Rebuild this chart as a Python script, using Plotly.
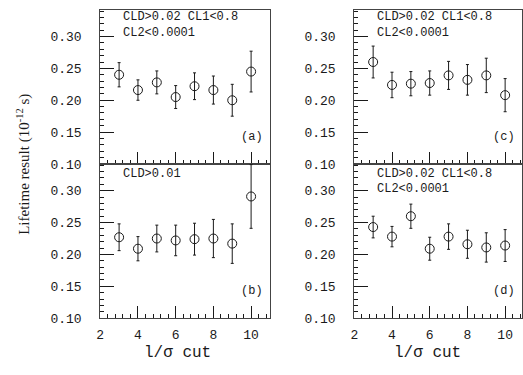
import plotly.graph_objects as go

cuts = [3, 4, 5, 6, 7, 8, 9, 10]

a_vals = [0.240, 0.216, 0.228, 0.205, 0.222, 0.216, 0.200, 0.245]
a_errs = [0.019, 0.016, 0.018, 0.018, 0.021, 0.022, 0.025, 0.032]

b_vals = [0.227, 0.209, 0.225, 0.222, 0.224, 0.225, 0.217, 0.291]
b_errs = [0.021, 0.019, 0.021, 0.024, 0.025, 0.030, 0.031, 0.050]

c_vals = [0.260, 0.224, 0.226, 0.227, 0.239, 0.232, 0.239, 0.208]
c_errs = [0.025, 0.020, 0.019, 0.019, 0.022, 0.024, 0.027, 0.026]

d_vals = [0.243, 0.228, 0.260, 0.209, 0.228, 0.216, 0.211, 0.214]
d_errs = [0.017, 0.016, 0.019, 0.018, 0.020, 0.022, 0.023, 0.025]

y_ticks = [0.10, 0.15, 0.20, 0.25, 0.30]
y_ticklabels = ["0.10", "0.15", "0.20", "0.25", "0.30"]
x_ticks = [2, 4, 6, 8, 10]
x_ticklabels = ["2", "4", "6", "8", "10"]

panel_texts = {
    "a": ["CLD>0.02 CL1<0.8", "CL2<0.0001"],
    "b": ["CLD>0.01"],
    "c": ["CLD>0.02 CL1<0.8", "CL2<0.0001"],
    "d": ["CLD>0.02 CL1<0.8", "CL2<0.0001"],
}

W, H = 523, 375
INK = "#1a1a1a"
MONO = "Liberation Mono, DejaVu Sans Mono, monospace"
SERIF = "Liberation Serif, DejaVu Serif, serif"

# panel pixel boxes: left, right, top, bottom
boxes = {
    "a": (97, 268, 10, 168),
    "b": (97, 268, 168, 326),
    "c": (353, 522, 10, 168),
    "d": (353, 522, 168, 326),
}
data = {"a": (a_vals, a_errs), "b": (b_vals, b_errs),
        "c": (c_vals, c_errs), "d": (d_vals, d_errs)}

fig = go.Figure()
layout = {}
annotations = []
ymax = 0.342
for i, key in enumerate(["a", "b", "c", "d"]):
    n = i + 1
    xs = "" if n == 1 else str(n)
    l, r, t, b = boxes[key]
    xrange_max = 2 + (r - l) / 19.0
    vals, errs = data[key]
    fig.add_trace(go.Scatter(
        x=cuts, y=vals, mode="markers",
        xaxis="x" + xs, yaxis="y" + xs,
        marker=dict(symbol="circle-open", size=9, color=INK, line=dict(width=1, color=INK)),
        error_y=dict(type="data", array=errs, visible=True, color=INK, thickness=1, width=1.5),
        showlegend=False, hoverinfo="skip",
    ))
    bottom = key in ("b", "d")
    layout["xaxis" + xs] = dict(
        domain=[l / W, min(r / W, 1.0)], anchor="y" + xs, range=[2, xrange_max],
        tickvals=x_ticks, ticktext=x_ticklabels, showticklabels=bottom,
        ticks="inside", ticklen=12, tickwidth=1, tickcolor=INK,
        minor=dict(dtick=0.4, tick0=2, ticks="inside", ticklen=4, tickwidth=1, tickcolor=INK),
        showline=True, linecolor="#444", linewidth=1, mirror=True,
        showgrid=False, zeroline=False,
        tickfont=dict(family=MONO, size=13, color=INK), ticklabelstandoff=4,
    )
    layout["yaxis" + xs] = dict(
        domain=[1 - b / H, 1 - t / H], anchor="x" + xs, range=[0.10, ymax],
        tickvals=y_ticks, ticktext=y_ticklabels,
        ticks="inside", ticklen=14, tickwidth=1, tickcolor=INK,
        minor=dict(dtick=0.01, tick0=0.10, ticks="inside", ticklen=4, tickwidth=1, tickcolor=INK),
        showline=True, linecolor="#444", linewidth=1, mirror=True,
        showgrid=False, zeroline=False,
        tickfont=dict(family=MONO, size=13, color=INK), ticklabelstandoff=15,
    )
    lines = panel_texts[key]
    ys = [0.331, 0.305] if key in ("a", "c") else [0.327, 0.302]
    for j, txt in enumerate(lines):
        annotations.append(dict(
            x=3.1, y=ys[j], xref="x" + xs, yref="y" + xs, text=txt,
            showarrow=False, xanchor="left", yanchor="middle",
            font=dict(family=MONO, size=12, color=INK),
        ))
    annotations.append(dict(
        x=(r - 5 - l) / 19.0 + 2, y=0.142, xref="x" + xs, yref="y" + xs,
        text="(" + key + ")", showarrow=False, xanchor="right", yanchor="middle",
        font=dict(family=MONO, size=12, color=INK),
    ))

annotations.append(dict(
    x=20 / W, y=1 - 168 / H, xref="paper", yref="paper",
    text="Lifetime result (10<sup>-12</sup> s)", textangle=-90, showarrow=False,
    xanchor="center", yanchor="middle", font=dict(family=SERIF, size=15, color=INK),
))
for cx in (175, 427):
    annotations.append(dict(
        x=cx / W, y=1 - 362 / H, xref="paper", yref="paper",
        text="l/σ cut", showarrow=False, xanchor="center", yanchor="middle",
        font=dict(family=MONO, size=16, color=INK),
    ))

fig.update_layout(
    width=W, height=H, margin=dict(l=0, r=0, t=0, b=0),
    paper_bgcolor="white", plot_bgcolor="white", hovermode=False,
    annotations=annotations, **layout,
)

fig.write_html(
    "out.html",
    config={"displayModeBar": False, "staticPlot": True},
    post_script="document.body.style.margin='0';document.body.style.overflow='hidden';",
)
